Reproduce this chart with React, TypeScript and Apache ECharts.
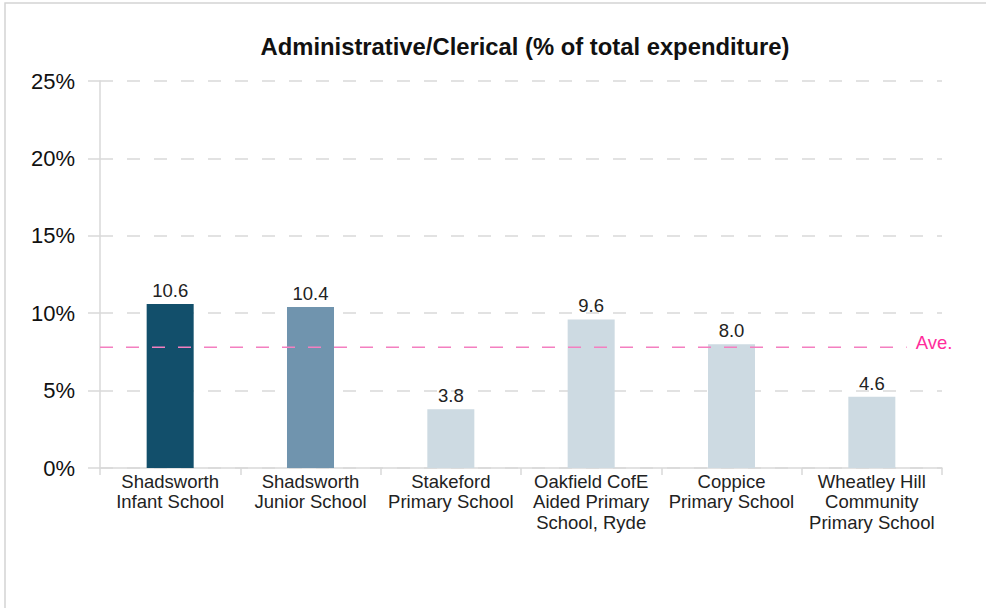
import React, { useEffect, useRef } from "react";
import * as echarts from "echarts";

const TITLE = "Administrative/Clerical (% of total expenditure)";
const categories = [
  "Shadsworth\nInfant School",
  "Shadsworth\nJunior School",
  "Stakeford\nPrimary School",
  "Oakfield CofE\nAided Primary\nSchool, Ryde",
  "Coppice\nPrimary School",
  "Wheatley Hill\nCommunity\nPrimary School",
];
const values = [10.6, 10.4, 3.8, 9.6, 8.0, 4.6];
const barColors = ["#124f6b", "#7094ae", "#cddae2", "#cddae2", "#cddae2", "#cddae2"];
const AVERAGE = 7.8;
const AVERAGE_LABEL = "Ave.";
const Y_MIN = 0;
const Y_MAX = 25;
const Y_INTERVAL = 5;

const FONT = "'Liberation Sans', Arial, sans-serif";

export default function App() {
  const ref = useRef<HTMLDivElement>(null);
  useEffect(() => {
    if (!ref.current) return;
    const chart = echarts.init(ref.current, undefined, { renderer: "svg" });
    const aveSpan = 0.958;
    chart.setOption({
      animation: false,
      backgroundColor: "#ffffff",
      textStyle: { fontFamily: FONT },
      title: {
        text: TITLE,
        left: 520,
        textAlign: "center",
        top: 29,
        textStyle: { fontFamily: FONT, fontSize: 23.8, fontWeight: "bold", color: "#111" },
      },
      graphic: [
        {
          type: "rect",
          shape: { x: 5, y: 3, width: 1100, height: 800 },
          style: { fill: "none", stroke: "#d4d4d4", lineWidth: 1.5 },
          silent: true,
          z: -10,
        },
      ],
      grid: { left: 100, right: 44, top: 81, bottom: 140, containLabel: false },
      xAxis: [
        {
          type: "category",
          data: categories,
          axisLine: { show: true, lineStyle: { color: "#d9d9d9", width: 1.5 } },
          axisTick: { show: true, length: 7, lineStyle: { color: "#d9d9d9", width: 1.5 } },
          axisLabel: {
            interval: 0,
            fontSize: 18.5,
            lineHeight: 20.5,
            color: "#222",
            margin: 3,
            fontFamily: FONT,
          },
          splitLine: { show: false },
        },
        {
          type: "value",
          min: 0,
          max: 1,
          show: false,
        },
      ],
      yAxis: {
        type: "value",
        min: Y_MIN,
        max: Y_MAX,
        interval: Y_INTERVAL,
        axisLine: { show: true, lineStyle: { color: "#d9d9d9", width: 1.5 } },
        axisTick: { show: true, length: 12, lineStyle: { color: "#d9d9d9", width: 1.5 } },
        axisLabel: {
          formatter: "{value}%",
          fontSize: 22,
          color: "#111",
          margin: 25,
          fontFamily: FONT,
        },
        splitLine: {
          show: true,
          lineStyle: { color: "#d9d9d9", width: 1.5, type: [13, 14] },
        },
      },
      series: [
        {
          type: "bar",
          data: values.map((v, i) => ({ value: v, itemStyle: { color: barColors[i] } })),
          barWidth: "33.5%",
          label: {
            show: true,
            position: "top",
            distance: 4,
            fontSize: 18.5,
            color: "#222",
            fontFamily: FONT,
            formatter: (p: any) => Number(p.value).toFixed(1),
          },
        },
        {
          type: "line",
          xAxisIndex: 1,
          data: [
            [0, AVERAGE],
            [aveSpan, AVERAGE],
          ],
          symbol: "none",
          lineStyle: { color: "#f47fc0", width: 1.5, type: [13, 13] },
          endLabel: {
            show: true,
            formatter: AVERAGE_LABEL,
            color: "#ff2d9b",
            fontSize: 18.5,
            distance: 9,
            offset: [0, -5],
            fontFamily: FONT,
          },
          z: 5,
        },
      ],
    });
    return () => chart.dispose();
  }, []);
  return (
    <div
      ref={ref}
      style={{ position: "fixed", left: 0, top: 0, width: 986, height: 608 }}
    />
  );
}
